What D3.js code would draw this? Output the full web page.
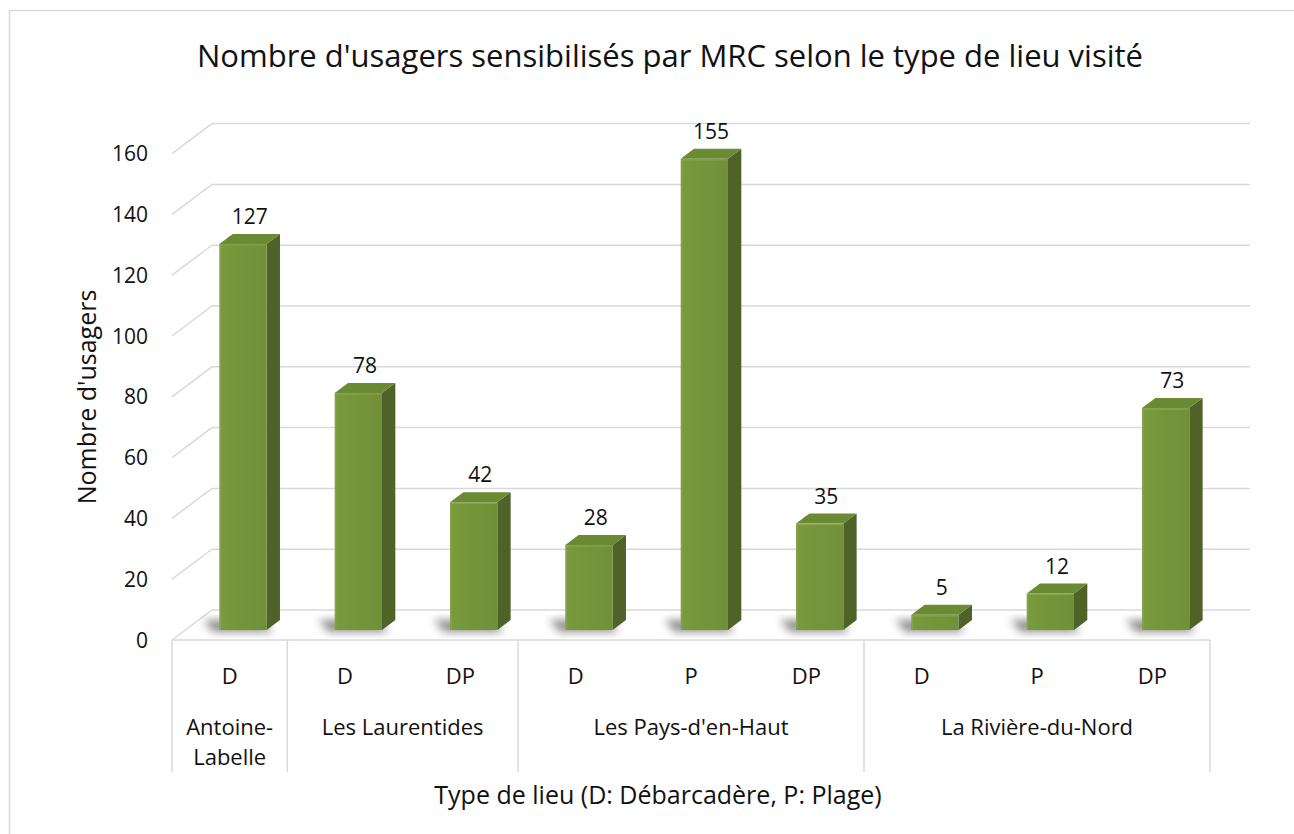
<!DOCTYPE html>
<html>
<head>
<meta charset="utf-8">
<script src="https://cdn.jsdelivr.net/npm/d3@7"></script>
<style>
  body { margin: 0; background: #fff; }
  svg { display: block; font-family: "Open Sans", "Noto Sans", sans-serif; }
  .grid { stroke: #d9d9d9; stroke-width: 1.5; fill: none; }
  .lbl { fill: #111; }
</style>
</head>
<body>
<div id="chart"></div>
<script>
// data
var groups = ["Antoine-Labelle", "Les Laurentides", "Les Pays-d'en-Haut", "La Rivière-du-Nord"];
var groupLines = [["Antoine-", "Labelle"], ["Les Laurentides"], ["Les Pays-d'en-Haut"], ["La Rivière-du-Nord"]];
var types = ["D", "D", "DP", "D", "P", "DP", "D", "P", "DP"];
var groupOf = [0, 1, 1, 2, 2, 2, 3, 3, 3];
var values = [127, 78, 42, 28, 155, 35, 5, 12, 73];
var yTicks = [0, 20, 40, 60, 80, 100, 120, 140, 160];

var W = 1294, H = 834;
var plotLeft = 172, plotRight = 1210, plotBase = 640, plotTop = 153.6;
var depthX = 40, depthY = -30;   // oblique depth of the floor / walls

var svg = d3.select("#chart").append("svg")
    .attr("width", W)
    .attr("height", H);

var defs = svg.append("defs");
defs.append("filter").attr("id", "blur")
    .attr("x", "-50%").attr("y", "-50%").attr("width", "200%").attr("height", "200%")
  .append("feGaussianBlur").attr("stdDeviation", 4);

var gFront = defs.append("linearGradient").attr("id", "front")
    .attr("x1", 0).attr("x2", 1).attr("y1", 0).attr("y2", 0);
gFront.append("stop").attr("offset", "0%").attr("stop-color", "#7a9a3d");
gFront.append("stop").attr("offset", "100%").attr("stop-color", "#718f38");

// chart border (only top / left visible)
svg.append("rect")
    .attr("x", 9.5).attr("y", 10.5)
    .attr("width", W + 20).attr("height", H + 20)
    .attr("fill", "none").attr("stroke", "#d9d9d9").attr("stroke-width", 1.5);

var x = d3.scaleBand()
    .domain(d3.range(values.length))
    .range([plotLeft, plotRight])
    .padding(0);

var y = d3.scaleLinear()
    .domain([0, 160])
    .range([plotBase, plotTop]);

// gridlines: left wall diagonal + back wall line
var grid = svg.append("g");
yTicks.forEach(function(t) {
    var yy = y(t);
    grid.append("path").attr("class", "grid")
        .attr("d", "M" + plotLeft + "," + yy + "L" + (plotLeft + depthX) + "," + (yy + depthY) +
                   "L" + (plotRight + depthX) + "," + (yy + depthY));
});
// floor front edge
grid.append("line").attr("class", "grid")
    .attr("x1", plotLeft).attr("x2", plotRight).attr("y1", plotBase).attr("y2", plotBase);

// category axis box
var boxBottom = 772;
var cuts = [0, 1, 3, 6, 9];
cuts.forEach(function(c) {
    var xx = c < values.length ? x(c) : plotRight;
    grid.append("line").attr("class", "grid")
        .attr("x1", xx).attr("x2", xx).attr("y1", plotBase).attr("y2", boxBottom);
});

// y tick labels
svg.append("g").selectAll("text")
    .data(yTicks)
  .enter().append("text")
    .attr("class", "lbl")
    .attr("x", 148)
    .attr("y", function(d) { return y(d); })
    .attr("dy", "0.36em")
    .attr("text-anchor", "end")
    .style("font-size", "21px")
    .text(function(d) { return d; });

// bars
var frac = 0.41;
var bw = x.bandwidth() * frac;
var dx = depthX / 3, dy = depthY / 3;   // bar sits in middle third of depth

var bars = svg.append("g").selectAll("g")
    .data(values)
  .enter().append("g");

bars.each(function(v, i) {
    var g = d3.select(this);
    var x0 = x(i) + (x.bandwidth() - bw) / 2 + dx;
    var y0 = y(0) + dy;
    var y1 = y(v) + dy;
    // shadow on the floor
    g.append("path")
        .attr("d", "M" + (x0 - 16) + "," + (y0 - 10) + "L" + (x0 + bw - 4) + "," + (y0 - 10) +
                   "L" + (x0 + bw + 6) + "," + (y0 + 2) + "L" + (x0 - 6) + "," + (y0 + 2) + "Z")
        .attr("fill", "#333").attr("opacity", 0.55)
        .attr("filter", "url(#blur)");
    // side face
    g.append("path")
        .attr("d", "M" + (x0 + bw) + "," + y1 + "L" + (x0 + bw + dx) + "," + (y1 + dy) +
                   "L" + (x0 + bw + dx) + "," + (y0 + dy) + "L" + (x0 + bw) + "," + y0 + "Z")
        .attr("fill", "#4f6228");
    // top face
    g.append("path")
        .attr("d", "M" + x0 + "," + y1 + "L" + (x0 + dx) + "," + (y1 + dy) +
                   "L" + (x0 + bw + dx) + "," + (y1 + dy) + "L" + (x0 + bw) + "," + y1 + "Z")
        .attr("fill", "#6a8a33");
    // front face
    g.append("rect")
        .attr("x", x0).attr("y", y1)
        .attr("width", bw).attr("height", y0 - y1)
        .attr("fill", "url(#front)");
    // soft bevel edge
    g.append("path")
        .attr("d", "M" + (x0 + 1) + "," + y0 + "L" + (x0 + 1) + "," + (y1 + 1) + "L" + (x0 + bw - 1) + "," + (y1 + 1))
        .attr("fill", "none").attr("stroke", "#8fab55").attr("stroke-width", 1.2).attr("opacity", 0.7);
    // value label
    g.append("text")
        .attr("class", "lbl")
        .attr("x", x0 + bw / 2 + dx / 2)
        .attr("y", y1 + dy - 10)
        .attr("text-anchor", "middle")
        .style("font-size", "21px")
        .text(v);
});

// category labels
svg.append("g").selectAll("text")
    .data(types)
  .enter().append("text")
    .attr("class", "lbl")
    .attr("x", function(d, i) { return x(i) + x.bandwidth() / 2; })
    .attr("y", 684)
    .attr("text-anchor", "middle")
    .style("font-size", "22px")
    .text(function(d) { return d; });

var gl = svg.append("g");
groupLines.forEach(function(lines, gi) {
    var idx = d3.range(values.length).filter(function(i) { return groupOf[i] === gi; });
    var cx = (x(idx[0]) + x(idx[idx.length - 1]) + x.bandwidth()) / 2;
    lines.forEach(function(s, li) {
        gl.append("text")
            .attr("class", "lbl")
            .attr("x", cx)
            .attr("y", 735 + li * 30)
            .attr("text-anchor", "middle")
            .style("font-size", "22px")
            .text(s);
    });
});

// titles
svg.append("text")
    .attr("class", "lbl")
    .attr("x", 670).attr("y", 67)
    .attr("text-anchor", "middle")
    .style("font-size", "31px")
    .text("Nombre d'usagers sensibilisés par MRC selon le type de lieu visité");

svg.append("text")
    .attr("class", "lbl")
    .attr("transform", "translate(96,397) rotate(-90)")
    .attr("text-anchor", "middle")
    .style("font-size", "25px")
    .text("Nombre d'usagers");

svg.append("text")
    .attr("class", "lbl")
    .attr("x", 658).attr("y", 804)
    .attr("text-anchor", "middle")
    .style("font-size", "25px")
    .text("Type de lieu (D: Débarcadère, P: Plage)");
</script>
</body>
</html>
